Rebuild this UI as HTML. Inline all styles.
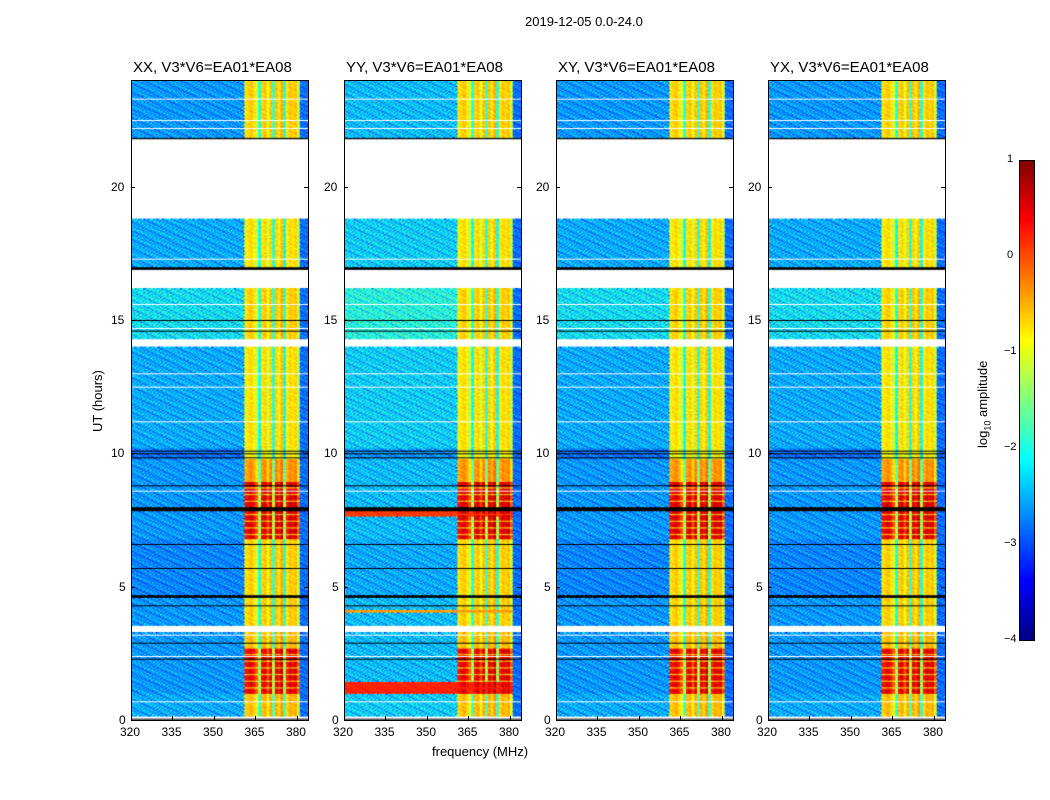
<!DOCTYPE html>
<html><head><meta charset="utf-8">
<style>
body{margin:0;background:#fff;font-family:"Liberation Sans",sans-serif;}
#root{position:relative;width:1050px;height:800px;overflow:hidden;}
.t{position:absolute;white-space:nowrap;color:#000;}
canvas{position:absolute;}
.frame{position:absolute;border:1px solid #000;box-sizing:border-box;}
</style></head><body>
<div id="root">
<div class="t" style="left:525px;top:14px;font-size:13px">2019-12-05 0.0-24.0</div>
<div class="t" style="left:432px;top:744px;font-size:13px">frequency (MHz)</div>
<div class="t" style="left:90px;top:432px;font-size:13px;transform:rotate(-90deg);transform-origin:0 0">UT (hours)</div>
<div class="t" style="left:975px;top:448px;font-size:13px;transform:rotate(-90deg);transform-origin:0 0">log<sub style="font-size:9px">10</sub> amplitude</div>
</div>
<script>
const panelTitles=["XX, V3*V6=EA01*EA08","YY, V3*V6=EA01*EA08","XY, V3*V6=EA01*EA08","YX, V3*V6=EA01*EA08"];
const panelX=[131,344,556,768];
const xTicks=[320,335,350,365,380];
const yTicks=[0,5,10,15,20];
const cbTicks=[-4,-3,-2,-1,0,1];
// time segments: [start h, end h, background level, band level, hot block level]; null = flagged, 'k' = black
const segStart=[0,0.15,1.0,2.7,3.3,3.55,4.6,4.7,6.8,7.85,8.0,9.0,9.8,10.2,14.0,14.3,16.2,16.9,17.0,18.8,21.8,21.85];
const segEnd=[0.15,1.0,2.7,3.3,3.55,4.6,4.7,6.8,7.85,8.0,9.0,9.8,10.2,14.0,14.3,16.2,16.9,17.0,18.8,21.8,21.85,24];
const segBg=[null,-2.6,-2.7,-2.7,null,-2.7,'k',-2.8,-2.7,'k',-2.7,-2.7,-2.9,-2.6,null,-2.3,null,'k',-2.6,null,'k',-2.7];
const segBand=[null,-0.7,-0.6,-0.7,null,-0.8,'k',-0.8,-0.6,'k',-0.6,-0.5,-1.0,-0.9,null,-0.8,null,'k',-0.9,null,'k',-0.8];
const segHot=[null,null,0.3,null,null,null,'k',null,0.35,'k',0.35,null,null,null,null,null,null,'k',null,null,'k',null];
// panel-specific full-width rows (YY): [panel, start, end, level]
const extraPanel=[1,1,1];
const extraStart=[1.0,7.6,4.0];
const extraEnd=[1.45,7.85,4.1];
const extraLevel=[0.2,0.1,-0.4];
// black flagged lines (hours)
const blackLines=[0.05,2.3,2.9,4.3,5.7,6.6,8.8,9.85,10.0,10.1,14.6,15.0];
// thin white flag lines (hours)
const whiteLines=[23.3,22.2,22.5,12.5,14.7,15.6,3.2,2.4,0.7,8.6,11.2,13.0,17.3];
// band channel offsets from 361 to 381 MHz (1 MHz steps)
const bandOffset=[0,0.1,0.2,0,-0.3,-1.2,0.1,0.2,-0.2,0.2,-1.1,0.2,0,0.3,-1.2,0,0.2,0.1,0.2,-0.3];
const rowTex=[0.3,-0.2,0.5,-0.4,0.1,0.6,-0.3,0.0,0.4,-0.5,0.2,-0.1,0.5];
const colTex=[0.2,-0.3,0.4,0.0,-0.4,0.3,-0.1,0.5,-0.2,0.1,-0.5];
const root=document.getElementById('root');
const H0=80,PH=640,PW=177,F0=320,F1=384;
function yOf(h){return H0+PH-h/24*PH;}
function xOf(f,px){return px+(f-F0)/(F1-F0)*PW;}
function jet(t){t=Math.max(0,Math.min(1,t));const c=v=>Math.round(255*Math.max(0,Math.min(1,v)));return [c(1.5-Math.abs(4*t-3)),c(1.5-Math.abs(4*t-2)),c(1.5-Math.abs(4*t-1))];}
function col(v){const c=jet((v+4)/5);return 'rgb('+c[0]+','+c[1]+','+c[2]+')';}
function add(tag,name,inter,style,text){const e=document.createElement(tag);e.setAttribute('style',style);if(text!==undefined)e.textContent=text;


root.appendChild(e);return e;}
panelX.forEach((px,p)=>{
  const cv=document.createElement('canvas');cv.width=PW;cv.height=PH;cv.style.left=px+'px';cv.style.top=H0+'px';
  
  
  root.appendChild(cv);
  const ctx=cv.getContext('2d');ctx.fillStyle='#fff';ctx.fillRect(0,0,PW,PH);
  const dt=0.05,df=0.5;
  for(let s=0;s<segStart.length;s++){
    for(let h=segStart[s];h<segEnd[s]-1e-6;h+=dt){
      const ri=Math.round(h/dt);
      const y0=yOf(Math.min(h+dt,segEnd[s]))-H0,y1=yOf(h)-H0;
      for(let f=F0;f<F1;f+=df){
        const ci=Math.round((f-F0)/df);
        let v=segBg[s];
        if(v===null)continue;
        if(v!=='k'){
          const tex=rowTex[(ri+ci*7+p)%13]+colTex[(ci+ri*3)%11];
          v+=0.8*tex+(p===1?0.2:0);
          if(f>=361&&f<381){
            const bo=bandOffset[Math.floor(f-361)];
            const hot=segHot[s];
            const inHot=hot!==null&&(ri%5)!==4;
            v=(inHot?hot:segBand[s])+bo*(inHot?1.3:1)+0.3*tex;
          }else if(f>=381){v=-2.9+0.6*tex;}
          for(let e=0;e<extraPanel.length;e++){if(extraPanel[e]===p&&h>=extraStart[e]&&h<extraEnd[e]&&f<381){v=Math.max(v,extraLevel[e]+0.2*tex);}}
          ctx.fillStyle=col(v);
        }else ctx.fillStyle='#000';
        const x0=(f-F0)/(F1-F0)*PW;
        ctx.fillRect(x0,y0,PW*df/(F1-F0)+0.5,y1-y0+0.5);
      }
    }
  }
  ctx.fillStyle='#fff';
  whiteLines.forEach(h=>ctx.fillRect(0,yOf(h)-H0,PW,1));
  ctx.fillStyle='#000';
  blackLines.forEach(h=>ctx.fillRect(0,yOf(h)-H0,PW,1));
  add('div','panel-frame-'+(p+1),'false',`left:${px}px;top:${H0}px;width:${PW+1}px;height:${PH+1}px`).className='frame';
  add('div','panel-title-'+(p+1),'false',`left:${px+2}px;top:59px;font-size:15px`,panelTitles[p]).className='t';
  xTicks.forEach(t=>{const x=xOf(t,px);
    add('div','x-tick-mark','false',`position:absolute;left:${x}px;top:${H0+PH-4}px;width:1px;height:4px;background:#000`);
    add('div','x-tick-label','false',`left:${x-11}px;top:${H0+PH+5}px;font-size:12px`,String(t)).className='t';});
  yTicks.forEach(t=>{const y=yOf(t);
    add('div','y-tick-mark','false',`position:absolute;left:${px}px;top:${y}px;width:4px;height:1px;background:#000`);
    add('div','y-tick-mark-right','false',`position:absolute;left:${px+PW-4}px;top:${y}px;width:4px;height:1px;background:#000`);
    add('div','y-tick-label','false',`left:${px-(t>=10?20:12)}px;top:${y-7}px;font-size:12px`,String(t)).className='t';});
});
const cb=document.createElement('canvas');cb.width=15;cb.height=480;cb.style.left='1019px';cb.style.top='160px';


root.appendChild(cb);
const cctx=cb.getContext('2d');
for(let i=0;i<480;i++){cctx.fillStyle=col(1-i/480*5);cctx.fillRect(0,i,15,1);}
add('div','colorbar-frame','false','left:1019px;top:160px;width:16px;height:481px').className='frame';
cbTicks.forEach(t=>{const y=160+(1-t)/5*480;
  add('div','colorbar-tick-label','false',`left:${t<0?1004:1007}px;top:${y-7}px;font-size:11px`,t<0?'\u2212'+(-t):String(t)).className='t';});
</script>
</body></html>
